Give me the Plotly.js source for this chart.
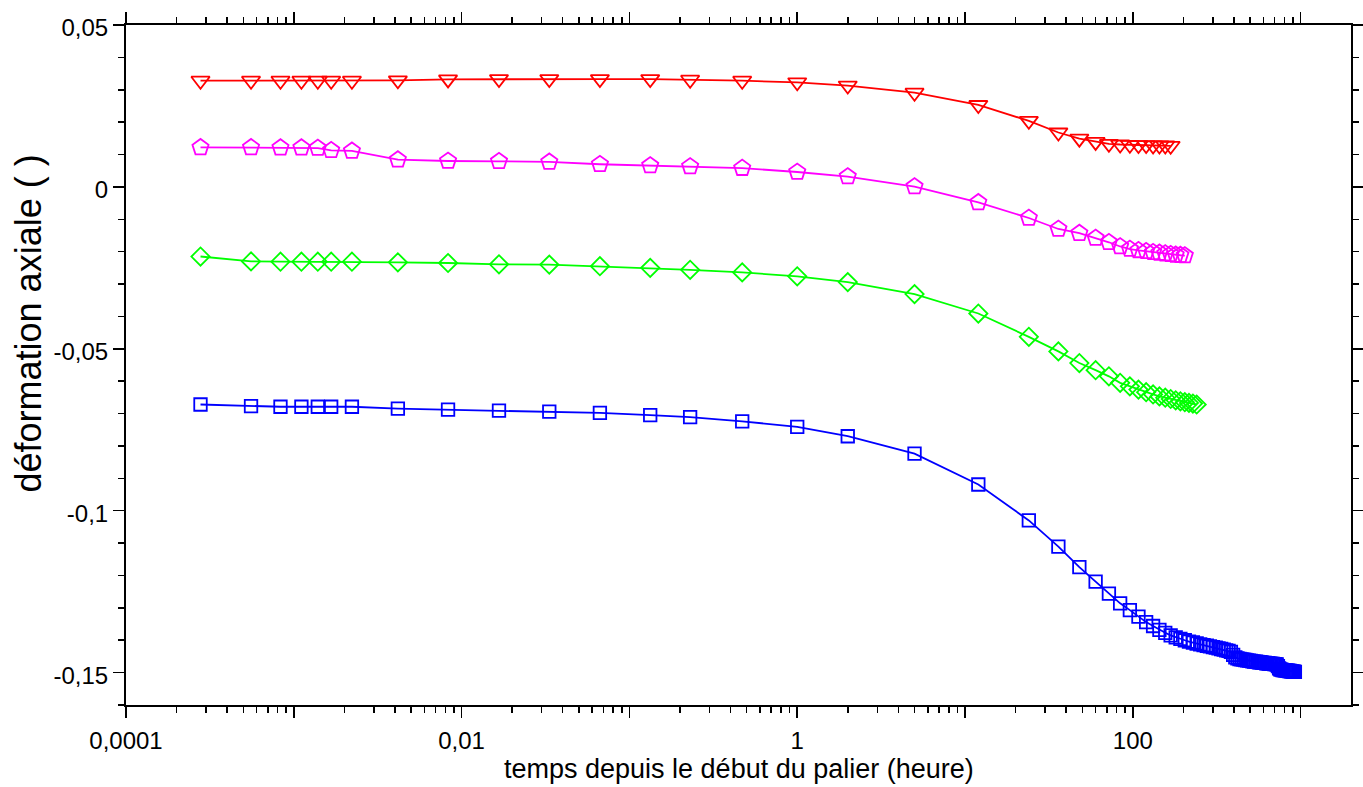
<!DOCTYPE html>
<html>
<head>
<meta charset="utf-8">
<script src="https://cdn.plot.ly/plotly-3.0.1.min.js"></script>
<style>html,body{margin:0;padding:0;background:#fff;}#chart{width:1363px;height:787px;}</style>
</head>
<body>
<div id="chart"></div>
<script>
// time (hours) shared by the first points of every series
var tStart = [0.000278, 0.000556, 0.000833, 0.00111, 0.00139, 0.00167, 0.00222, 0.00417, 0.0083, 0.0167, 0.0333, 0.0667, 0.133, 0.23, 0.47, 1, 2, 5, 12, 24];

var tRed = [36, 48, 60, 72, 84, 96, 108, 120, 132, 144, 156, 168];
var tMagenta = [36, 48, 60, 72, 84, 96, 108, 120, 132, 144, 156, 168, 180, 192, 204];
var tGreen = [36, 48, 60, 72, 84, 96, 108, 120, 132, 144, 156, 168, 180, 192, 204, 216, 228, 240];
var tBlue = [36, 48, 60, 72, 84, 96, 108, 120, 132, 144, 156, 168, 180, 192, 204, 216, 228, 240, 252, 264, 276, 288, 300, 312, 324, 336, 348, 360, 372, 384, 396, 408, 420, 432, 444, 456, 468, 480, 492, 504, 516, 528, 540, 552, 564, 576, 588, 600, 612, 624, 636, 648, 660, 672, 684, 696, 708, 720, 732, 744, 756, 768, 780, 792, 804, 816, 828, 840, 852, 864, 876, 888, 900, 912, 924];

var yRed = [0.0328, 0.0328, 0.0328, 0.0328, 0.0328, 0.0328, 0.0328, 0.0329, 0.0332, 0.0333, 0.0333, 0.0333, 0.0333, 0.0331, 0.0328, 0.0323, 0.0313, 0.0291, 0.0253, 0.0204,
  0.0168, 0.0149, 0.0139, 0.0133, 0.0131, 0.0130, 0.0129, 0.0129, 0.0128, 0.0128, 0.0128, 0.0127];
var yMagenta = [0.0122, 0.0122, 0.0121, 0.0121, 0.0120, 0.0113, 0.0111, 0.0084, 0.0080, 0.0079, 0.0077, 0.0070, 0.0066, 0.0063, 0.0058, 0.0046, 0.0032, 0.0001, -0.0048, -0.0096,
  -0.0130, -0.0143, -0.0158, -0.0171, -0.0184, -0.0192, -0.0196, -0.0199, -0.0202, -0.0204, -0.0206, -0.0208, -0.0210, -0.0211, -0.0212];
var yGreen = [-0.0215, -0.0230, -0.0231, -0.0231, -0.0231, -0.0231, -0.0231, -0.0233, -0.0235, -0.0239, -0.0240, -0.0245, -0.0250, -0.0256, -0.0264, -0.0276, -0.0294, -0.0331, -0.0391, -0.0463,
  -0.0508, -0.0544, -0.0566, -0.0585, -0.0605, -0.0616, -0.0626, -0.0634, -0.0641, -0.0647, -0.0651, -0.0655, -0.0659, -0.0662, -0.0665, -0.0667, -0.0669, -0.0672];
var yBlue = [-0.0672, -0.0677, -0.0679, -0.0679, -0.0679, -0.0679, -0.0679, -0.0685, -0.0688, -0.0691, -0.0694, -0.0698, -0.0705, -0.0711, -0.0724, -0.0741, -0.0770, -0.0824, -0.0919, -0.1030,
  -0.1111, -0.1174, -0.1219, -0.1256, -0.1286, -0.1307, -0.1327, -0.1344, -0.1356, -0.1368, -0.1377, -0.1385, -0.1391, -0.1396, -0.1400, -0.1404, -0.1407, -0.1410, -0.1413, -0.1415,
  -0.1417, -0.1419, -0.1421, -0.1423, -0.1425, -0.1427, -0.1429, -0.1431, -0.1433, -0.1436, -0.1445, -0.1453, -0.1456, -0.1458, -0.1459, -0.1460, -0.1461, -0.1462, -0.1463, -0.1464,
  -0.1465, -0.1466, -0.1466, -0.1467, -0.1468, -0.1468, -0.1469, -0.1470, -0.1470, -0.1471, -0.1471, -0.1472, -0.1472, -0.1473, -0.1473, -0.1474, -0.1474, -0.1475, -0.1480, -0.1487,
  -0.1490, -0.1491, -0.1492, -0.1492, -0.1493, -0.1493, -0.1494, -0.1494, -0.1495, -0.1495, -0.1496, -0.1496, -0.1497, -0.1497, -0.1498];

var xTickVals = [0.0001, 0.001, 0.01, 0.1, 1, 10, 100, 1000];
var xTickText = ['0,0001', '', '0,01', '', '1', '', '100', ''];
var xMinorVals = [];
[0.0001, 0.001, 0.01, 0.1, 1, 10, 100, 1000].forEach(function (d) {
  [2, 3, 4, 5, 6, 7, 8, 9].forEach(function (m) { if (d * m < 1990) xMinorVals.push(d * m); });
});
var yTickVals = [-0.15, -0.1, -0.05, 0, 0.05];
var yTickText = ['-0,15', '-0,1', '-0,05', '0', '0,05'];

var FONT = '"Liberation Sans", Arial, sans-serif';

function series(x, y, color, symbol, size) {
  return {
    x: x, y: y, type: 'scatter', mode: 'lines+markers',
    line: {color: color, width: 1.8},
    marker: {symbol: symbol, size: size, color: color, line: {color: color, width: 1.8}},
    cliponaxis: true, showlegend: false
  };
}

var data = [
  series(tStart.concat(tRed), yRed, '#ff0000', 'triangle-down-open', 16),
  series(tStart.concat(tMagenta), yMagenta, '#ff00ff', 'pentagon-open', 17),
  series(tStart.concat(tGreen), yGreen, '#00ff00', 'diamond-open', 14),
  series(tStart.concat(tBlue), yBlue, '#0000ff', 'square-open', 12.5)
];

var axisCommon = {
  showline: true, linecolor: '#000', linewidth: 2, mirror: 'allticks',
  ticks: 'outside', ticklen: 11, tickwidth: 1.5, tickcolor: '#000',
  showgrid: false, zeroline: false,
  tickfont: {family: FONT, size: 24, color: '#000'}
};

var layout = {
  width: 1363, height: 787,
  margin: {l: 126, r: 12, t: 25, b: 82},
  paper_bgcolor: '#fff', plot_bgcolor: '#fff',
  font: {family: FONT, color: '#000'},
  xaxis: Object.assign({}, axisCommon, {
    type: 'log', range: [-4, 3.3], tickmode: 'array', tickvals: xTickVals, ticktext: xTickText,
    ticklabelstandoff: 2,
    minor: {tickmode: 'array', tickvals: xMinorVals, ticks: 'outside', ticklen: 6, tickwidth: 1.5, tickcolor: '#000', showgrid: false}
  }),
  yaxis: Object.assign({}, axisCommon, {
    range: [-0.16, 0.05], tickmode: 'array', tickvals: yTickVals, ticktext: yTickText,
    ticklabelshift: 3,
    minor: {dtick: 0.01, tick0: 0, ticks: 'outside', ticklen: 6, tickwidth: 1.5, tickcolor: '#000', showgrid: false}
  }),
  annotations: [
    {text: 'temps depuis le début du palier (heure)', xref: 'paper', yref: 'paper', x: 0.5, y: -0.094,
     xanchor: 'center', yanchor: 'middle', showarrow: false, font: {family: FONT, size: 27, color: '#000'}},
    {text: 'déformation axiale ( )', xref: 'paper', yref: 'paper', x: -0.0792, y: 0.561,
     xanchor: 'center', yanchor: 'middle', textangle: -90, showarrow: false, font: {family: FONT, size: 36, color: '#000'}}
  ]
};

Plotly.newPlot('chart', data, layout, {displayModeBar: false, staticPlot: true});
</script>
</body>
</html>
